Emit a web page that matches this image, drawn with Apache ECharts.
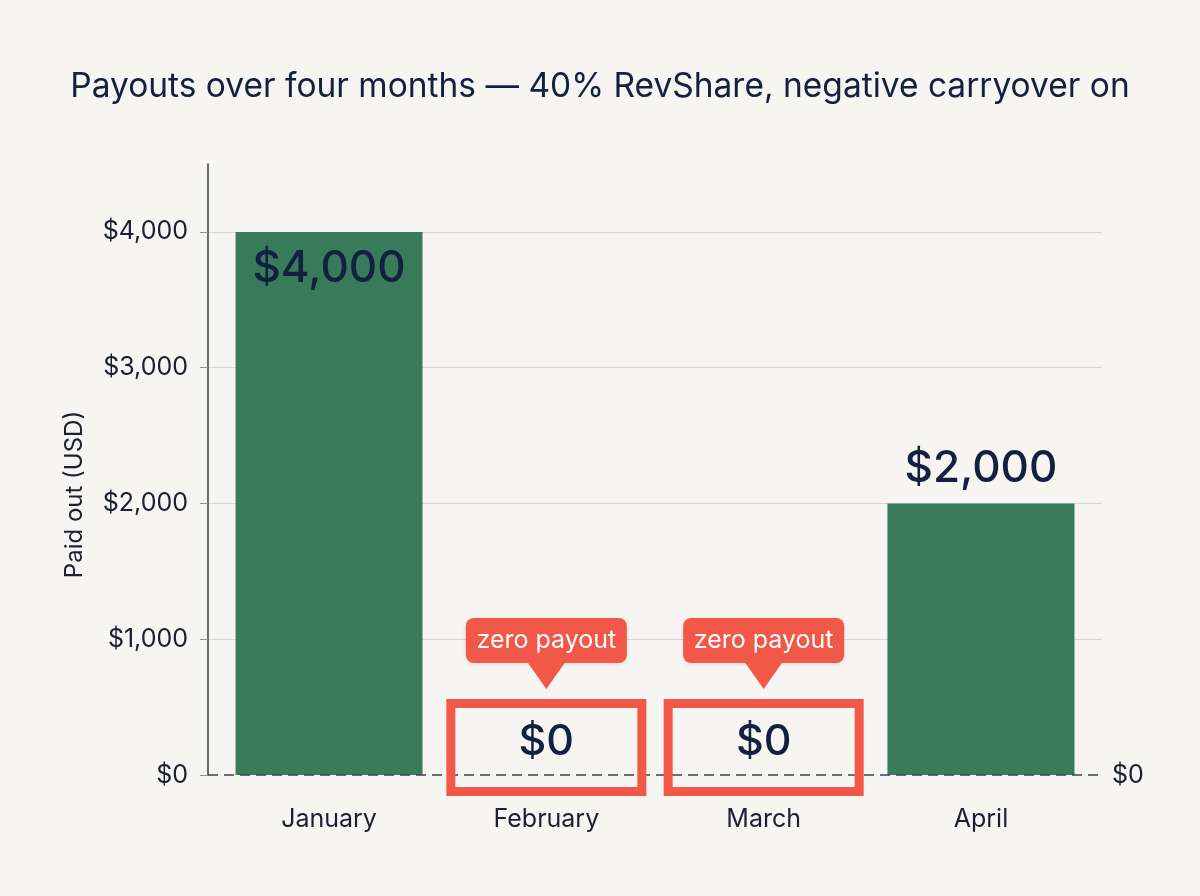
<!DOCTYPE html>
<html>
<head>
<meta charset="utf-8">
<title>Payouts over four months</title>
<script src="https://cdn.jsdelivr.net/npm/echarts@6.0.0/dist/echarts.min.js"></script>
<style>
    html, body { margin: 0; padding: 0; background: #f7f5f1; }
    #chart { width: 1200px; height: 896px; }
</style>
</head>
<body>
<div id="chart"></div>
<script>
(function(){
    "use strict";

    // data
    var months = ['January', 'February', 'March', 'April'];
    var payouts = [4000, 0, 0, 2000];
    var yTicks = [0, 1000, 2000, 3000, 4000];
    var calloutText = 'zero payout';

    var FONT = 'Inter, "Noto Sans", sans-serif';
    var NAVY = '#13203f';
    var INK = '#1a2030';
    var GREEN = '#387b5b';
    var RED = '#f25848';

    function money(v){
        return '$' + Number(v).toLocaleString('en-US');
    }

    var barData = payouts.map(function(v, i){
        var item = {value: [i, v]};
        if(v === 0){
            item.label = {show: false};
        }else if(v >= 3000){
            item.label = {position: 'insideTop', distance: 15};
        }else{
            item.label = {position: 'top', distance: 13};
        }
        return item;
    });

    // months where nothing was paid get the red box + callout
    var zeroData = [];
    payouts.forEach(function(v, i){
        if(v === 0) zeroData.push([i, v]);
    });

    function renderZero(params, api){
        var p = api.coord([api.value(0), api.value(1)]);
        var cx = p[0], cy = p[1];
        return {
            type: 'group',
            children: [
                {
                    type: 'rect',
                    shape: {x: cx - 95.5, y: cy - 71.5, width: 191, height: 88},
                    style: {fill: 'none', stroke: RED, lineWidth: 9}
                },
                {
                    type: 'text',
                    style: {
                        text: money(api.value(1)), x: cx, y: cy - 33,
                        align: 'center', verticalAlign: 'middle',
                        font: '500 43px ' + FONT, fill: NAVY
                    }
                },
                {
                    type: 'rect',
                    shape: {x: cx - 80.5, y: cy - 157, width: 161, height: 45, r: 8},
                    style: {fill: RED, shadowBlur: 4, shadowColor: 'rgba(0,0,0,0.12)', shadowOffsetY: 1}
                },
                {
                    type: 'polygon',
                    shape: {points: [[cx - 19, cy - 113], [cx + 19, cy - 113], [cx, cy - 86]]},
                    style: {fill: RED}
                },
                {
                    type: 'text',
                    style: {
                        text: calloutText, x: cx, y: cy - 134.5,
                        align: 'center', verticalAlign: 'middle',
                        font: '25px ' + FONT, fill: '#ffffff'
                    }
                }
            ]
        };
    }

    var chart = echarts.init(document.getElementById('chart'));
    chart.setOption({
        backgroundColor: '#f7f5f1',
        animation: false,
        title: {
            text: 'Payouts over four months \u2014 40% RevShare, negative carryover on',
            left: 'center',
            top: 65,
            textStyle: {fontFamily: FONT, fontSize: 33.5, fontWeight: 'normal', color: NAVY}
        },
        grid: {left: 208, right: 98, top: 164, bottom: 121},
        xAxis: {
            type: 'value',
            min: -0.557,
            max: 3.557,
            axisLine: {show: false},
            axisTick: {show: false},
            splitLine: {show: false},
            axisLabel: {
                customValues: months.map(function(m, i){ return i; }),
                formatter: function(v){ return months[Math.round(v)]; },
                margin: 32,
                fontFamily: FONT,
                fontSize: 25,
                color: INK
            }
        },
        yAxis: {
            type: 'value',
            min: 0,
            max: 4500,
            interval: 1000,
            name: 'Paid out (USD)',
            nameLocation: 'middle',
            nameGap: 121,
            nameTextStyle: {fontFamily: FONT, fontSize: 24, color: INK, padding: [0, 50, 0, 0]},
            axisLine: {show: true, onZero: false, lineStyle: {color: '#3a3f4f', width: 1.5}},
            axisTick: {show: true, length: 8, customValues: yTicks, lineStyle: {color: '#8a8d96'}},
            axisLabel: {
                customValues: yTicks,
                formatter: money,
                margin: 20,
                fontFamily: FONT,
                fontSize: 25,
                color: INK
            },
            splitLine: {show: true, showMinLine: false, lineStyle: {color: '#d6d6d4', width: 1}}
        },
        series: [
            {
                type: 'bar',
                data: barData,
                barWidth: 187,
                itemStyle: {color: GREEN},
                label: {
                    show: true,
                    formatter: function(p){ return money(p.value[1]); },
                    fontFamily: FONT,
                    fontSize: 44,
                    fontWeight: 500,
                    color: NAVY
                },
                markLine: {
                    silent: true,
                    symbol: 'none',
                    data: [{yAxis: 0}],
                    lineStyle: {color: '#3b4257', type: [10, 6], width: 1.5},
                    label: {
                        position: 'end',
                        distance: 10,
                        formatter: function(){ return money(0); },
                        fontFamily: FONT,
                        fontSize: 25,
                        color: INK
                    }
                }
            },
            {
                type: 'custom',
                z: 5,
                data: zeroData,
                renderItem: renderZero
            }
        ]
    });
})();
</script>
</body>
</html>
